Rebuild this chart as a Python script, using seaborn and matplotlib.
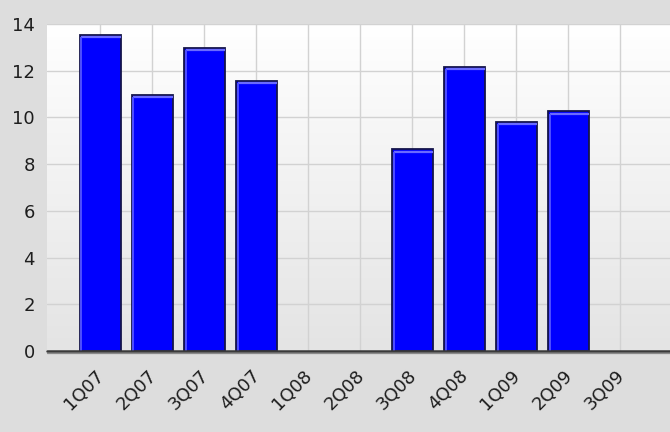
import numpy as np
import pandas as pd
import matplotlib
matplotlib.use("Agg")
import matplotlib.pyplot as plt
import matplotlib.transforms as mtransforms
from matplotlib.lines import Line2D
import seaborn as sns

# Quarterly values (empty quarters have no bar)
quarters = ["1Q07", "2Q07", "3Q07", "4Q07", "1Q08", "2Q08",
            "3Q08", "4Q08", "1Q09", "2Q09", "3Q09"]
values = [13.55, 10.98, 12.97, 11.55, np.nan, np.nan,
          8.63, 12.18, 9.80, 10.26, np.nan]
y_ticks = [0, 2, 4, 6, 8, 10, 12, 14]

df = pd.DataFrame({"quarter": quarters, "value": values})

sns.set_theme(style="white")
plt.rcParams["font.family"] = ["DejaVu Sans"]

fig = plt.figure(figsize=(6.7, 4.32), dpi=100, facecolor="#dddddd")
ax = fig.add_axes([47 / 670, 1 - 351 / 432, 1 - 47 / 670 + 0.002, (351 - 24) / 432])

# vertical gradient for the plotting area: white on top, light grey at the bottom
grad = np.linspace(1.0, 0.0, 256).reshape(-1, 1)
cmap = matplotlib.colors.LinearSegmentedColormap.from_list("bg", ["#e4e4e4", "#ffffff"])
ax.imshow(grad, extent=[0, 1, 0, 1], transform=ax.transAxes, cmap=cmap,
          aspect="auto", zorder=0, origin="upper")

sns.barplot(data=df, x="quarter", y="value", order=quarters, color="#0000ff",
            saturation=1, width=0.79, edgecolor="#15154a", linewidth=1.3,
            ax=ax, zorder=3)

# bevel highlight along the top and left edge of each bar
for p in ax.patches:
    h = p.get_height()
    if not np.isfinite(h) or h <= 0:
        continue
    x0, w = p.get_x(), p.get_width()
    off = mtransforms.ScaledTranslation(1.4 / 72, -1.6 / 72, fig.dpi_scale_trans)
    tr = ax.transData + off
    ax.add_line(Line2D([x0, x0 + w - 0.03], [h, h], color="#6a6aff", lw=1.6,
                       transform=tr, zorder=4, solid_capstyle="butt"))
    ax.add_line(Line2D([x0, x0], [0, h], color="#5050ff", lw=1.4,
                       transform=tr, zorder=4, solid_capstyle="butt"))

ax.set_xlim(-1.02, 10.98)
ax.set_ylim(0, 14)
ax.set_yticks(y_ticks)
ax.set_yticklabels([str(t) for t in y_ticks])

ax.set_axisbelow(True)
ax.grid(True, axis="both", color="#d2d2d2", linewidth=1.0, zorder=1)

for s in ax.spines.values():
    s.set_visible(False)

# baseline at zero: dark line with a lighter shadow underneath
ax.axhline(0, color="#3a3a3a", lw=1.8, zorder=5, clip_on=False)
shadow = mtransforms.ScaledTranslation(0, -1.6 / 72, fig.dpi_scale_trans)
ax.add_line(Line2D([0, 1], [0, 0], transform=ax.get_yaxis_transform() + shadow,
                   color="#8a8a8a", lw=0.9, zorder=5, clip_on=False))

ax.set_xlabel("")
ax.set_ylabel("")
ax.tick_params(axis="y", length=0, pad=8.6, labelsize=13, labelcolor="#1e1e1e")
ax.tick_params(axis="x", length=0, pad=11, labelsize=13, labelcolor="#1e1e1e")
shift = mtransforms.ScaledTranslation(-5 / 100, 0, fig.dpi_scale_trans)
for lbl in ax.get_xticklabels():
    lbl.set_rotation(45)
    lbl.set_ha("right")
    lbl.set_va("top")
    lbl.set_rotation_mode("anchor")
    lbl.set_transform(lbl.get_transform() + shift)

fig.savefig("out.png", dpi=100, facecolor=fig.get_facecolor())
